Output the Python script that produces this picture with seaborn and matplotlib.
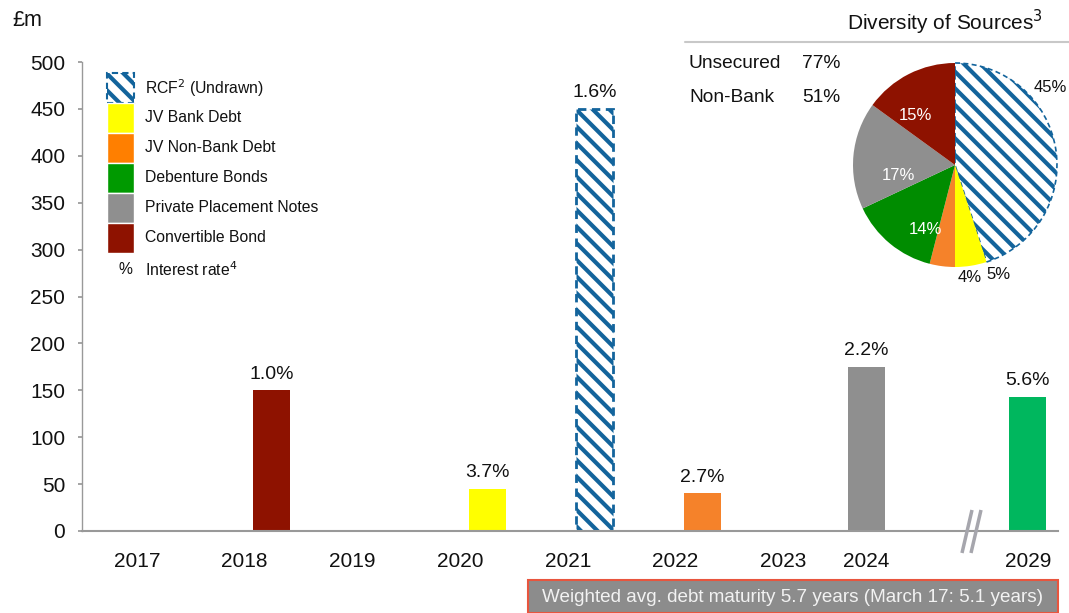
import matplotlib
matplotlib.use("Agg")
import matplotlib.pyplot as plt
from matplotlib.patches import Rectangle
from matplotlib.lines import Line2D
import seaborn as sns
import pandas as pd

# ---- data -------------------------------------------------------------
years = ["2017", "2018", "2019", "2020", "2021", "2022", "2023", "2024", "2029"]
bar_years = ["2018", "2020", "2021", "2022", "2024", "2029"]
bar_values = [150, 45, 450, 40, 175, 143]
bar_rates = ["1.0%", "3.7%", "1.6%", "2.7%", "2.2%", "5.6%"]
bar_sources = ["Convertible Bond", "JV Bank Debt", "RCF", "JV Non-Bank Debt",
               "Private Placement Notes", "Debenture Bonds 2029"]

legend_labels = ["RCF$^2$ (Undrawn)", "JV Bank Debt", "JV Non-Bank Debt",
                 "Debenture Bonds", "Private Placement Notes", "Convertible Bond"]

pie_labels = ["RCF", "JV Bank Debt", "JV Non-Bank Debt", "Debenture Bonds",
              "Private Placement Notes", "Convertible Bond"]
pie_shares = [45, 5, 4, 14, 17, 15]

summary_labels = ["Unsecured", "Non-Bank"]
summary_values = ["77%", "51%"]

# ---- styling ----------------------------------------------------------
BLUE = "#13649c"
HATCH = "\\\\"
colors = {
    "RCF": "white",
    "JV Bank Debt": "#ffff00",
    "JV Non-Bank Debt": "#f5822a",
    "Debenture Bonds": "#009a00",
    "Private Placement Notes": "#8f8f8f",
    "Convertible Bond": "#8e1200",
    "Debenture Bonds 2029": "#00b75e",
}
legend_colors = ["white", "#ffff00", "#ff7f00", "#009a00", "#8f8f8f", "#8e1200"]
pie_colors = ["white", "#ffff00", "#f5822a", "#008c00", "#8f8f8f", "#8e1200"]

sns.set_theme(style="white")
plt.rcParams["font.family"] = ["Liberation Sans", "DejaVu Sans"]
plt.rcParams["hatch.linewidth"] = 3.0

W, H = 1069, 613
fig = plt.figure(figsize=(W / 100, H / 100), dpi=100)


def fx(x):
    return x / W


def fy(y):
    return 1 - y / H


# slot positions of the year labels (the axis is broken before 2029)
tick_pos = [0, 1, 2, 3, 4, 5, 6, 6.77, 8.27]
pos_of = dict(zip(years, tick_pos))
bar_shift = {"2018": 0.25, "2020": 0.25, "2021": 0.25, "2022": 0.25,
             "2024": 0.0, "2029": 0.0}

df = pd.DataFrame({
    "year": bar_years,
    "value": bar_values,
    "rate": bar_rates,
    "source": bar_sources,
})
df["pos"] = [pos_of[y] + bar_shift[y] for y in df["year"]]

ax = fig.add_axes([fx(82), fy(531), fx(1058) - fx(82), fy(62) - fy(531)])
sns.barplot(data=df, x="pos", y="value", hue="source", palette=colors,
            native_scale=True, dodge=False, width=0.344, legend=False,
            saturation=1, ax=ax)

# hatched RCF bar with dashed outline
rcf_pos = df.loc[df["source"] == "RCF", "pos"].iloc[0]
for p in ax.patches:
    cx = p.get_x() + p.get_width() / 2
    if abs(cx - rcf_pos) < 1e-6:
        p.set_facecolor("white")
        p.set_edgecolor(BLUE)
        p.set_hatch(HATCH)
        p.set_linewidth(2.0)
        p.set_linestyle((0, (3, 2)))
    else:
        p.set_edgecolor("none")

for _, r in df.iterrows():
    ax.text(r["pos"], r["value"] + 8, r["rate"], ha="center", va="bottom",
            fontsize=14, color="#111111")

ax.set_xlim(-0.51, 8.55)
ax.set_ylim(0, 500)
ax.set_xticks(tick_pos)
ax.set_xticklabels(years, fontsize=15, color="#111111")
ax.set_yticks(range(0, 501, 50))
ax.set_yticklabels([str(v) for v in range(0, 501, 50)], fontsize=15, color="#111111")
ax.set_xlabel("")
ax.set_ylabel("")
for s in ["top", "right"]:
    ax.spines[s].set_visible(False)
ax.spines["left"].set_color("#999999")
ax.spines["bottom"].set_color("#999999")
ax.spines["left"].set_linewidth(1.0)
ax.spines["bottom"].set_linewidth(1.5)
ax.tick_params(axis="y", which="major", left=True, length=3, color="#999999", pad=9)
ax.tick_params(axis="x", which="major", bottom=False, pad=9)
ax.patch.set_alpha(0)

# axis break marks
for dx in (0, 9):
    fig.add_artist(Line2D([fx(972 + dx), fx(962 + dx)], [fy(510), fy(553)],
                          color="#a6a6ad", lw=2.5, solid_capstyle="butt"))

fig.text(fx(27), fy(20), "£m", fontsize=15.5, ha="center", va="center", color="#111111")

# ---- legend -----------------------------------------------------------
for i, (lab, col) in enumerate(zip(legend_labels, legend_colors)):
    top = 73 + i * 30
    rect = Rectangle((fx(107), fy(top + 30)), fx(134) - fx(107), fy(top) - fy(top + 30),
                     transform=fig.transFigure, facecolor=col,
                     edgecolor="white", lw=1.0)
    if i == 0:
        rect.set_edgecolor(BLUE)
        rect.set_hatch(HATCH)
        rect.set_linestyle((0, (3, 2)))
        rect.set_linewidth(1.5)
    fig.add_artist(rect)
    fig.text(fx(145), fy(top + 15), lab, fontsize=11.3, va="center", ha="left",
             color="#111111")
fig.text(fx(125), fy(270), "%", fontsize=11.3, va="center", ha="center", color="#111111")
fig.text(fx(145), fy(270), "Interest rate$^4$", fontsize=11.3, va="center", ha="left",
         color="#111111")

# ---- pie --------------------------------------------------------------
fig.text(fx(1043), fy(22), "Diversity of Sources$^3$", fontsize=15, ha="right",
         va="center", color="#111111")
fig.add_artist(Line2D([fx(685), fx(1069)], [fy(42), fy(42)], color="#c8c8c8", lw=1.5))
for i, (lab, val) in enumerate(zip(summary_labels, summary_values)):
    fig.text(fx(689), fy(63 + i * 35), lab, fontsize=13.8, va="center", color="#111111")
    fig.text(fx(802), fy(63 + i * 35), val, fontsize=13.8, va="center", color="#111111")

R = 102
pax = fig.add_axes([fx(955 - R), fy(165 + R), fx(2 * R), fy(0) - fy(2 * R)])
wedges, _ = pax.pie(pie_shares, colors=pie_colors, startangle=90, counterclock=False,
                    wedgeprops=dict(linewidth=0))
wedges[0].set_edgecolor(BLUE)
wedges[0].set_hatch(HATCH)
wedges[0].set_linewidth(1.2)
wedges[0].set_linestyle((0, (3, 2)))
pax.set_xlim(-1, 1)
pax.set_ylim(-1, 1)
pax.set_aspect("equal")
pax.axis("off")

pie_text = [((1067, 87), "45%", "#111111", "right"),
            ((915, 115), "15%", "white", "center"),
            ((898, 175), "17%", "white", "center"),
            ((925, 230), "14%", "white", "center"),
            ((970, 278), "4%", "#111111", "center"),
            ((998, 274), "5%", "#111111", "center")]
for (x, y), t, c, ha in pie_text:
    fig.text(fx(x), fy(y), t, fontsize=12, color=c, ha=ha, va="center")

# ---- footer box -------------------------------------------------------
fig.add_artist(Rectangle((fx(528), fy(613)), fx(1058) - fx(528), fy(580) - fy(613),
                         transform=fig.transFigure, facecolor="#8c8c8c",
                         edgecolor="#e8553e", lw=1.5))
fig.text(fx(793), fy(597), "Weighted avg. debt maturity 5.7 years (March 17: 5.1 years)",
         fontsize=13.6, color="#f2f2f2", ha="center", va="center")

fig.savefig("out.png", dpi=100)
